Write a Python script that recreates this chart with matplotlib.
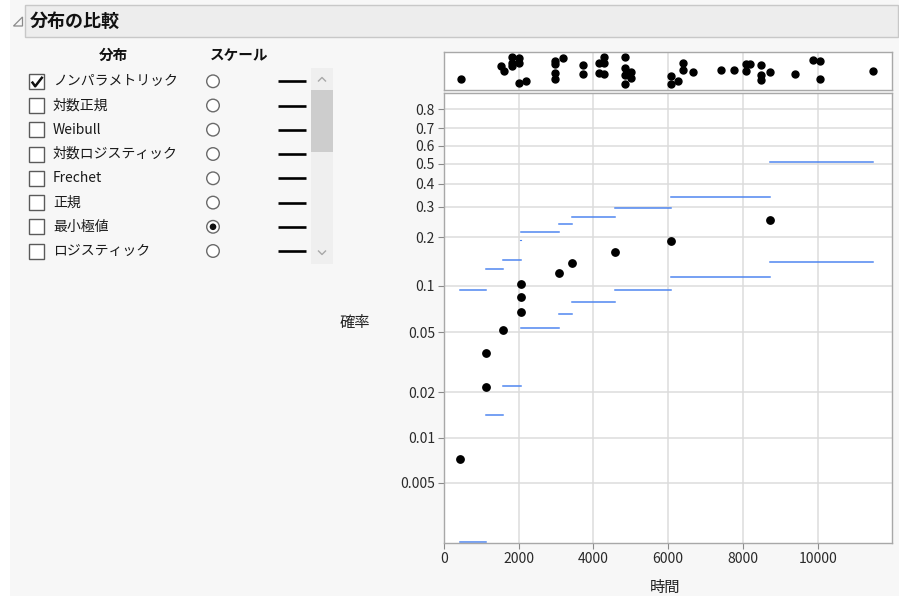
import numpy as np
import matplotlib
matplotlib.use('Agg')
import matplotlib.pyplot as plt
from matplotlib.patches import Rectangle, Circle, Polygon
from matplotlib.ticker import FixedLocator, NullLocator

plt.rcParams['font.family'] = ['Noto Sans CJK JP', 'DejaVu Sans']

# ---- data ----
dist_names = ['ノンパラメトリック', '対数正規', 'Weibull', '対数ロジスティック',
              'Frechet', '正規', '最小極値', 'ロジスティック']
dist_checked = [True, False, False, False, False, False, False, False]
scale_selected = 6

fail_time = [428, 1135, 1135, 1585, 2060, 2060, 2060, 3090, 3435, 4585, 6080, 8735]
fail_prob = [0.00723, 0.0218, 0.0363, 0.0514, 0.0673, 0.0844, 0.1021,
             0.1199, 0.1398, 0.1617, 0.1905, 0.2510]

band_start = [428, 1135, 1585, 2060, 3090, 3435, 4585, 6080, 8735]
band_end = [1135, 1585, 2060, 3090, 3435, 4585, 6080, 8735, 11480]
band_upper = [0.094, 0.127, 0.1445, 0.2135, 0.238, 0.2636, 0.2956, 0.3406, 0.5105]
band_lower = [0.00201, 0.0141, 0.0221, 0.0532, 0.0656, 0.0781, 0.0941, 0.1131, 0.1412]
stub_time = [2040, 2065]
stub_prob = [0.192, 0.192]

strip_x = [447, 1524, 1612, 1810, 1810, 1818, 2005, 2005, 2005, 2193,
           2976, 2976, 3190, 2976, 2976, 3725, 3725, 4144, 4278, 4278,
           4144, 4278, 4840, 4840, 5000, 4840, 5000, 4840, 6070, 6070,
           6265, 6409, 6409, 6666, 7406, 7754, 8075, 8182, 8075, 8476,
           8476, 8476, 8735, 9385, 9874, 10072, 10072, 11479]
strip_jit = [0.29, 0.62, 0.49, 0.86, 0.71, 0.63, 0.84, 0.71, 0.18, 0.23,
             0.77, 0.68, 0.84, 0.45, 0.30, 0.67, 0.43, 0.71, 0.86, 0.71,
             0.45, 0.42, 0.86, 0.58, 0.47, 0.40, 0.32, 0.16, 0.36, 0.16,
             0.24, 0.71, 0.53, 0.47, 0.52, 0.52, 0.68, 0.68, 0.51, 0.67,
             0.40, 0.27, 0.47, 0.42, 0.80, 0.77, 0.30, 0.49]

prob_ticks = [0.8, 0.7, 0.6, 0.5, 0.4, 0.3, 0.2, 0.1, 0.05, 0.02, 0.01, 0.005]
prob_labels = ['0.8', '0.7', '0.6', '0.5', '0.4', '0.3', '0.2', '0.1',
               '0.05', '0.02', '0.01', '0.005']
time_ticks = [0, 2000, 4000, 6000, 8000, 10000]


def sev_fwd(p):
    p = np.clip(np.asarray(p, dtype=float), 1e-12, 1 - 1e-12)
    return np.log(-np.log(1 - p))


def sev_inv(g):
    return 1 - np.exp(-np.exp(np.asarray(g, dtype=float)))


W, H = 899, 596
fig = plt.figure(figsize=(W / 100, H / 100), dpi=100, facecolor='white')

# pixel-coordinate panel for the report chrome
pan = fig.add_axes([0, 0, 1, 1], zorder=0)
pan.set_xlim(0, W)
pan.set_ylim(H, 0)
pan.axis('off')

pan.add_patch(Rectangle((10, 0), W - 10, H, facecolor='#f7f7f7', edgecolor='none'))
pan.add_patch(Rectangle((25, 5), W - 26, 32, facecolor='#ededed', edgecolor='#c8c8c8', lw=1))
pan.add_patch(Polygon([(13.5, 26), (22.5, 26), (22.5, 17)], closed=True,
                      facecolor='none', edgecolor='#8a8a8a', lw=0.9))
pan.text(30, 21, '分布の比較', fontsize=13, fontweight='bold', color='#111111',
         va='center', ha='left')

pan.text(113, 55, '分布', fontsize=10.5, fontweight='bold', color='#111111', ha='center', va='center')
pan.text(239, 55, 'スケール', fontsize=10.5, fontweight='bold', color='#111111', ha='center', va='center')

row_y = [81.3, 105.5, 129.7, 154, 178.3, 202.6, 226.8, 251]
for i, name in enumerate(dist_names):
    y = row_y[i]
    pan.add_patch(Rectangle((29, y - 7.5), 15, 15, facecolor='white', edgecolor='#5a5a5a', lw=1))
    if dist_checked[i]:
        pan.plot([31.8, 35.2, 42.6], [y + 0.3, y + 5, y - 4.5], color='#111111', lw=1.8,
                 solid_capstyle='butt')
    pan.text(53, y, name, fontsize=10, color='#1a1a1a', ha='left', va='center')
    pan.add_patch(Circle((213, y), 6.3, facecolor='white', edgecolor='#6a6a6a', lw=1))
    if i == scale_selected:
        pan.add_patch(Circle((213, y), 3.3, facecolor='#111111', edgecolor='none'))
    pan.plot([278, 306], [y, y], color='black', lw=1.9, solid_capstyle='butt')

# scrollbar
pan.add_patch(Rectangle((311, 68), 22, 196, facecolor='#efefef', edgecolor='none'))
pan.add_patch(Rectangle((311, 90), 22, 62, facecolor='#cdcdcd', edgecolor='none'))
pan.plot([318.5, 322, 325.5], [81, 77.5, 81], color='#a8a8a8', lw=1)
pan.plot([318.5, 322, 325.5], [251, 254.5, 251], color='#a8a8a8', lw=1)

pan.text(355, 322, '確率', fontsize=11, color='#222222', ha='center', va='center')
pan.text(665, 587, '時間', fontsize=11, color='#222222', ha='center', va='center')

# main probability plot
left, right, top, bottom = 444, 892, 93, 543
ax = fig.add_axes([left / W, 1 - bottom / H, (right - left) / W, (bottom - top) / H], zorder=2)
ax.set_yscale('function', functions=(sev_fwd, sev_inv))
ax.set_xlim(0, 11990)
ax.set_ylim(0.00197, 0.8738)
ax.set_facecolor('white')

ax.yaxis.set_major_locator(FixedLocator(prob_ticks))
ax.yaxis.set_minor_locator(NullLocator())
ax.set_yticklabels(prob_labels)
ax.set_xticks(time_ticks)
ax.grid(True, color='#dcdcdc', lw=1.1)
ax.set_axisbelow(True)
ax.tick_params(axis='both', labelsize=10, labelcolor='#2a2a2a', color='#8a8a8a',
               length=4, width=0.8, pad=2.5)
for s in ax.spines.values():
    s.set_color('#a8a8a8')
    s.set_linewidth(1)

blue = '#4f86f0'
for i in range(len(band_start)):
    ax.plot([band_start[i], band_end[i]], [band_upper[i], band_upper[i]], color=blue, lw=1.1)
    ax.plot([band_start[i], band_end[i]], [band_lower[i], band_lower[i]], color=blue, lw=1.1)
ax.plot(stub_time, stub_prob, color=blue, lw=0.8)
ax.plot(fail_time, fail_prob, 'o', color='black', ms=5.3, zorder=5)

# marginal strip of all observations
s_top, s_bot = 52, 90
sx = fig.add_axes([left / W, 1 - s_bot / H, (right - left) / W, (s_bot - s_top) / H], zorder=2)
sx.set_xlim(0, 11990)
sx.set_ylim(0, 1)
sx.set_xticks(time_ticks)
sx.set_yticks([])
sx.tick_params(axis='x', length=0, labelbottom=False)
sx.grid(True, axis='x', color='#dcdcdc', lw=1.1)
sx.set_axisbelow(True)
for s in sx.spines.values():
    s.set_color('#a8a8a8')
    s.set_linewidth(1)
sx.plot(strip_x, strip_jit, 'o', color='black', ms=5, clip_on=False)

fig.savefig('out.png', dpi=100, facecolor=fig.get_facecolor())
